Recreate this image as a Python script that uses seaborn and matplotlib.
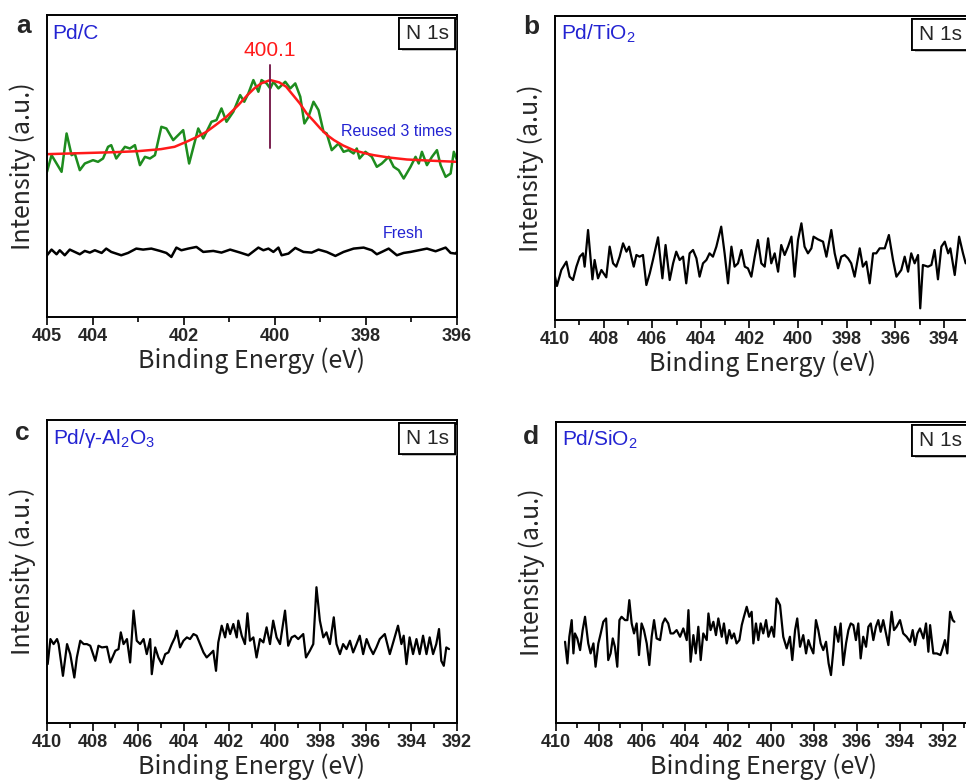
import matplotlib
matplotlib.use("Agg")
import matplotlib.pyplot as plt
import matplotlib.patheffects as pe
from matplotlib.ticker import FixedLocator
import seaborn as sns

# ---------------------------------------------------------------- data
# Pd/C, reused 3 times (green raw spectrum)
PDC_REUSED_E = [405.00, 404.90, 404.68, 404.57, 404.46, 404.39, 404.28, 404.17, 403.99, 403.88,
                403.77, 403.66, 403.59, 403.48, 403.29, 403.18, 403.07, 402.96, 402.85, 402.74,
                402.63, 402.49, 402.38, 402.23, 402.01, 401.88, 401.68, 401.57, 401.39, 401.28,
                401.17, 401.06, 400.91, 400.76, 400.67, 400.58, 400.47, 400.36, 400.29, 400.18,
                400.10, 400.03, 399.92, 399.77, 399.66, 399.55, 399.44, 399.35, 399.26, 399.15,
                399.04, 398.93, 398.86, 398.75, 398.60, 398.49, 398.38, 398.27, 398.20, 398.14,
                398.01, 397.87, 397.76, 397.65, 397.50, 397.39, 397.28, 397.17, 397.02, 396.91,
                396.84, 396.77, 396.66, 396.55, 396.44, 396.36, 396.25, 396.14, 396.07, 396.00]
PDC_REUSED_I = [435, 485, 435, 550, 485, 490, 440, 460, 470, 465,
                475, 510, 515, 475, 510, 505, 515, 455, 480, 475,
                485, 570, 565, 530, 560, 460, 565, 535, 585, 590,
                625, 585, 615, 665, 645, 670, 710, 675, 710, 700,
                685, 705, 685, 705, 685, 700, 660, 580, 600, 645,
                620, 555, 550, 500, 520, 495, 500, 490, 505, 475,
                495, 480, 450, 460, 480, 450, 440, 415, 450, 480,
                460, 495, 455, 480, 500, 455, 420, 430, 495, 470]

# Pd/C fitted component (red)
PDC_FIT_E = [405.0, 404.5, 404.0, 403.5, 403.0, 402.5, 402.2, 401.94, 401.7, 401.5,
             401.3, 401.06, 400.8, 400.6, 400.45, 400.3, 400.1, 399.9, 399.75, 399.6,
             399.45, 399.3, 399.15, 399.0, 398.85, 398.7, 398.5, 398.27, 398.0, 397.83,
             397.5, 397.1, 396.5, 396.0]
PDC_FIT_I = [488, 490, 492, 494, 497, 503, 510, 525, 540, 555,
             575, 600, 635, 665, 685, 700, 710, 703, 690, 665,
             640, 610, 588, 565, 545, 530, 514, 500, 490, 485,
             478, 472, 468, 465]

# Pd/C fresh (black)
PDC_FRESH_E = [405.00, 404.90, 404.79, 404.72, 404.61, 404.50, 404.39, 404.28, 404.17, 404.06,
               403.95, 403.80, 403.70, 403.59, 403.37, 403.22, 403.04, 402.89, 402.71, 402.52,
               402.38, 402.27, 402.16, 402.05, 401.90, 401.72, 401.57, 401.35, 401.17, 400.98,
               400.76, 400.58, 400.36, 400.25, 400.14, 400.03, 399.92, 399.85, 399.70, 399.55,
               399.37, 399.19, 399.04, 398.86, 398.67, 398.49, 398.27, 398.05, 397.87, 397.76,
               397.65, 397.50, 397.32, 397.17, 397.02, 396.84, 396.66, 396.47, 396.25, 396.14,
               396.03, 396.00]
PDC_FRESH_I = [185, 202, 188, 200, 185, 202, 195, 188, 198, 193,
               200, 192, 205, 195, 185, 192, 205, 202, 205, 198,
               192, 180, 208, 200, 205, 210, 195, 198, 193, 202,
               193, 185, 208, 200, 205, 195, 208, 185, 190, 207,
               195, 193, 202, 195, 183, 195, 205, 208, 200, 188,
               195, 205, 185, 192, 195, 200, 205, 197, 208, 192,
               190, 195]
PEAK_POS = 400.1

# Pd/TiO2
TIO2_E = [410.00, 409.92, 409.74, 409.53, 409.40, 409.26, 409.12, 408.98, 408.85, 408.78,
          408.64, 408.46, 408.37, 408.23, 408.09, 407.89, 407.75, 407.61, 407.48, 407.34,
          407.20, 407.06, 406.95, 406.86, 406.76, 406.65, 406.52, 406.38, 406.24, 406.10,
          405.97, 405.76, 405.58, 405.45, 405.28, 405.14, 405.01, 404.87, 404.73, 404.60,
          404.46, 404.32, 404.18, 404.05, 403.91, 403.77, 403.64, 403.50, 403.36, 403.16,
          403.02, 402.88, 402.74, 402.61, 402.47, 402.33, 402.19, 402.06, 401.92, 401.78,
          401.65, 401.51, 401.37, 401.23, 401.10, 400.96, 400.82, 400.69, 400.55, 400.41,
          400.27, 400.14, 400.00, 399.86, 399.73, 399.59, 399.45, 399.36, 399.18, 398.97,
          398.83, 398.63, 398.49, 398.35, 398.22, 398.08, 397.94, 397.81, 397.67, 397.46,
          397.33, 397.19, 397.05, 396.91, 396.78, 396.64, 396.43, 396.26, 396.09, 395.95,
          395.75, 395.61, 395.47, 395.34, 395.20, 395.06, 394.97, 394.86, 394.65, 394.51,
          394.38, 394.24, 394.10, 393.96, 393.82, 393.73, 393.55, 393.37, 393.21, 393.10]
TIO2_I = [130, 102, 150, 175, 130, 120, 160, 190, 200, 160,
          270, 122, 180, 125, 150, 128, 220, 170, 160, 190,
          230, 205, 220, 190, 160, 195, 190, 195, 105, 140,
          180, 248, 125, 225, 120, 170, 205, 180, 190, 110,
          200, 210, 185, 130, 170, 180, 200, 190, 220, 280,
          200, 110, 220, 160, 170, 210, 160, 155, 130, 190,
          240, 170, 160, 245, 170, 200, 145, 225, 195, 220,
          250, 130, 240, 290, 220, 200, 215, 250, 242, 235,
          190, 270, 200, 155, 190, 195, 185, 170, 130, 215,
          160, 175, 110, 200, 200, 215, 215, 255, 180, 130,
          150, 190, 145, 200, 170, 195, 35, 165, 160, 165,
          210, 122, 220, 235, 200, 215, 135, 250, 200, 170]

# Pd/gamma-Al2O3
AL2O3_E = [409.97, 409.85, 409.71, 409.56, 409.49, 409.30, 409.12, 408.98, 408.80, 408.69,
           408.54, 408.39, 408.25, 408.10, 407.88, 407.74, 407.59, 407.37, 407.22, 407.00,
           406.86, 406.76, 406.64, 406.49, 406.35, 406.20, 406.06, 405.91, 405.76, 405.62,
           405.47, 405.40, 405.25, 405.11, 404.96, 404.81, 404.67, 404.52, 404.38, 404.30,
           404.16, 404.01, 403.86, 403.72, 403.57, 403.43, 403.28, 403.13, 402.99, 402.84,
           402.70, 402.58, 402.48, 402.33, 402.18, 402.08, 401.96, 401.82, 401.67, 401.60,
           401.45, 401.31, 401.20, 401.09, 400.94, 400.80, 400.65, 400.50, 400.36, 400.21,
           400.07, 399.92, 399.77, 399.55, 399.41, 399.26, 399.12, 398.97, 398.75, 398.63,
           398.46, 398.31, 398.17, 398.02, 397.87, 397.73, 397.58, 397.41, 397.29, 397.14,
           397.00, 396.85, 396.70, 396.56, 396.41, 396.27, 396.12, 395.97, 395.83, 395.68,
           395.54, 395.39, 395.17, 394.95, 394.78, 394.59, 394.44, 394.34, 394.22, 394.08,
           393.93, 393.78, 393.64, 393.49, 393.34, 393.20, 393.05, 392.91, 392.79, 392.69,
           392.58, 392.47, 392.35]
AL2O3_I = [176, 251, 236, 251, 236, 141, 236, 206, 136, 196,
           246, 236, 236, 231, 186, 231, 226, 228, 181, 216,
           221, 271, 236, 251, 181, 336, 246, 236, 251, 206,
           251, 146, 226, 196, 176, 206, 211, 236, 256, 276,
           226, 246, 256, 251, 266, 261, 236, 211, 196, 206,
           216, 156, 241, 291, 256, 296, 266, 296, 256, 306,
           261, 236, 328, 246, 256, 196, 251, 241, 286, 236,
           306, 256, 236, 336, 231, 256, 261, 251, 266, 196,
           216, 236, 406, 306, 256, 271, 236, 316, 236, 206,
           236, 221, 246, 211, 236, 261, 206, 251, 226, 206,
           226, 251, 266, 206, 246, 291, 236, 261, 176, 256,
           206, 251, 206, 261, 206, 256, 206, 236, 281, 186,
           171, 226, 221]

# Pd/SiO2
SIO2_E = [409.58, 409.47, 409.38, 409.27, 409.19, 409.12, 409.01, 408.88, 408.76, 408.65,
          408.50, 408.39, 408.26, 408.16, 408.03, 407.92, 407.80, 407.67, 407.57, 407.46,
          407.36, 407.26, 407.15, 407.05, 406.95, 406.79, 406.68, 406.59, 406.48, 406.37,
          406.25, 406.14, 406.02, 405.91, 405.78, 405.66, 405.55, 405.44, 405.32, 405.16,
          405.04, 404.93, 404.78, 404.67, 404.54, 404.39, 404.23, 404.08, 403.92, 403.84,
          403.74, 403.61, 403.50, 403.38, 403.27, 403.15, 402.99, 402.91, 402.81, 402.68,
          402.56, 402.45, 402.29, 402.19, 402.06, 401.94, 401.83, 401.72, 401.60, 401.47,
          401.36, 401.26, 401.13, 401.01, 400.90, 400.82, 400.70, 400.59, 400.48, 400.36,
          400.23, 400.12, 399.97, 399.86, 399.74, 399.58, 399.43, 399.27, 399.12, 399.01,
          398.88, 398.78, 398.65, 398.50, 398.37, 398.26, 398.16, 398.03, 397.91, 397.80,
          397.69, 397.57, 397.44, 397.32, 397.21, 397.10, 397.02, 396.87, 396.76, 396.64,
          396.51, 396.40, 396.29, 396.17, 396.05, 395.94, 395.83, 395.71, 395.58, 395.47,
          395.36, 395.24, 395.12, 395.01, 394.90, 394.78, 394.65, 394.54, 394.39, 394.28,
          394.16, 394.00, 393.85, 393.69, 393.53, 393.41, 393.30, 393.19, 393.07, 392.91,
          392.79, 392.68, 392.60, 392.45, 392.29, 392.12, 392.02, 391.91, 391.80, 391.67,
          391.55, 391.47]
SIO2_I = [244, 179, 259, 309, 209, 269, 254, 219, 279, 319,
          239, 209, 239, 169, 239, 269, 304, 314, 189, 209,
          254, 229, 169, 309, 319, 309, 309, 369, 299, 269,
          299, 204, 299, 279, 239, 174, 259, 309, 254, 249,
          299, 314, 299, 269, 269, 279, 259, 284, 249, 339,
          184, 264, 209, 289, 189, 269, 249, 329, 279, 304,
          264, 314, 259, 299, 239, 279, 254, 269, 239, 249,
          294, 319, 349, 319, 334, 239, 299, 249, 299, 269,
          309, 259, 289, 259, 374, 354, 259, 224, 259, 189,
          279, 314, 229, 264, 209, 249, 229, 209, 309, 279,
          239, 219, 244, 179, 144, 219, 289, 244, 299, 174,
          239, 279, 299, 294, 249, 299, 194, 259, 229, 289,
          299, 249, 289, 309, 274, 309, 269, 234, 334, 279,
          289, 309, 269, 259, 244, 279, 234, 269, 284, 254,
          299, 214, 294, 209, 209, 204, 224, 249, 209, 334,
          309, 304]

SAMPLES = ["Pd/C", "Pd/TiO$_2$", "Pd/\u03b3-Al$_2$O$_3$", "Pd/SiO$_2$"]
PANEL_LETTERS = ["a", "b", "c", "d"]

# ---------------------------------------------------------------- style
sns.set_style("ticks")
plt.rcParams["font.family"] = ["Liberation Sans", "DejaVu Sans"]
plt.rcParams["mathtext.default"] = "regular"
BLUE = "#2323d2"
LABEL_FONT = ["Noto Sans CJK SC", "DejaVu Sans"]

W, H = 966, 783
fig = plt.figure(figsize=(W / 100, H / 100), dpi=100)


def px_axes(left, top, right, bottom):
    return fig.add_axes([left / W, 1 - bottom / H, (right - left) / W, (bottom - top) / H])


def style_axes(ax, xlim, ylim, majors, minors):
    ax.set_xlim(*xlim)
    ax.set_ylim(*ylim)
    ax.xaxis.set_major_locator(FixedLocator(majors))
    ax.xaxis.set_minor_locator(FixedLocator(minors))
    ax.set_yticks([])
    ax.tick_params(axis="x", which="major", direction="out", length=6, width=1.4,
                   pad=2, labelsize=13)
    ax.tick_params(axis="x", which="minor", direction="out", length=3.5, width=1.4)
    for lab in ax.get_xticklabels():
        lab.set_fontweight("bold")
    for sp in ax.spines.values():
        sp.set_visible(True)
        sp.set_linewidth(1.4)
        sp.set_color("black")
    ax.set_xlabel("Binding Energy (eV)", family=LABEL_FONT, fontsize=18, labelpad=2)
    ax.set_ylabel("Intensity (a.u.)", family=LABEL_FONT, fontsize=18, labelpad=8)


def n1s_box(ax):
    t = ax.annotate("N 1s", xy=(1, 1), xycoords="axes fraction", xytext=(-6, -6.5),
                    textcoords="offset points", ha="right", va="top", fontsize=15,
                    bbox=dict(boxstyle="square,pad=0.3", fc="white", ec="black", lw=1.3),
                    zorder=5)
    t.get_bbox_patch().set_path_effects(
        [pe.withSimplePatchShadow(offset=(1.5, -1.5), shadow_rgbFace="gray", alpha=0.5),
         pe.Normal()])


even = list(range(410, 389, -2))
odd = list(range(409, 389, -2))

# ---------------------------------------------------------------- a: Pd/C
ax = px_axes(47, 15, 457, 317)
sns.lineplot(x=PDC_REUSED_E, y=PDC_REUSED_I, ax=ax, color="#1e8c1e", lw=1.8,
             estimator=None, sort=False)
sns.lineplot(x=PDC_FIT_E, y=PDC_FIT_I, ax=ax, color="#ff1a1a", lw=1.8,
             estimator=None, sort=False)
sns.lineplot(x=PDC_FRESH_E, y=PDC_FRESH_I, ax=ax, color="black", lw=1.8,
             estimator=None, sort=False)
ax.plot([PEAK_POS, PEAK_POS], [505, 755], color="#7a2050", lw=1.4)
ax.text(PEAK_POS, 800, "400.1", color="#ff1a1a", fontsize=15, ha="center", va="center")
ax.text(398.55, 557, "Reused 3 times", color=BLUE, fontsize=11.5, ha="left", va="center")
ax.text(397.19, 251, "Fresh", color=BLUE, fontsize=11.5, ha="center", va="center")
style_axes(ax, (405, 396), (0, 905), [405, 404, 402, 400, 398, 396], [403, 401, 399, 397])

# ---------------------------------------------------------------- b: Pd/TiO2
ax_b = px_axes(555, 16, 970, 320)
sns.lineplot(x=TIO2_E, y=TIO2_I, ax=ax_b, color="black", lw=1.6, estimator=None, sort=False)
style_axes(ax_b, (410, 410 - 415 / 24.3), (0, 912), even, odd)

# ---------------------------------------------------------------- c: Pd/Al2O3
ax_c = px_axes(47, 420, 457, 723)
sns.lineplot(x=AL2O3_E, y=AL2O3_I, ax=ax_c, color="black", lw=1.6, estimator=None, sort=False)
style_axes(ax_c, (410, 392), (0, 906), even, odd)

# ---------------------------------------------------------------- d: Pd/SiO2
ax_d = px_axes(556, 422, 970, 723)
sns.lineplot(x=SIO2_E, y=SIO2_I, ax=ax_d, color="black", lw=1.6, estimator=None, sort=False)
style_axes(ax_d, (410, 410 - 414 / 21.5), (0, 904), even, odd)

for a_, name in zip([ax, ax_b, ax_c, ax_d], SAMPLES):
    a_.text(0.014, 0.94, name, transform=a_.transAxes, color=BLUE, fontsize=15,
            ha="left", va="center")
    n1s_box(a_)

for (x, y), letter in zip([(24, 26), (531, 27), (22, 433), (531, 437)], PANEL_LETTERS):
    fig.text(x / W, 1 - y / H, letter, fontsize=19, fontweight="bold",
             ha="center", va="center")

fig.savefig("out.png", dpi=100)
